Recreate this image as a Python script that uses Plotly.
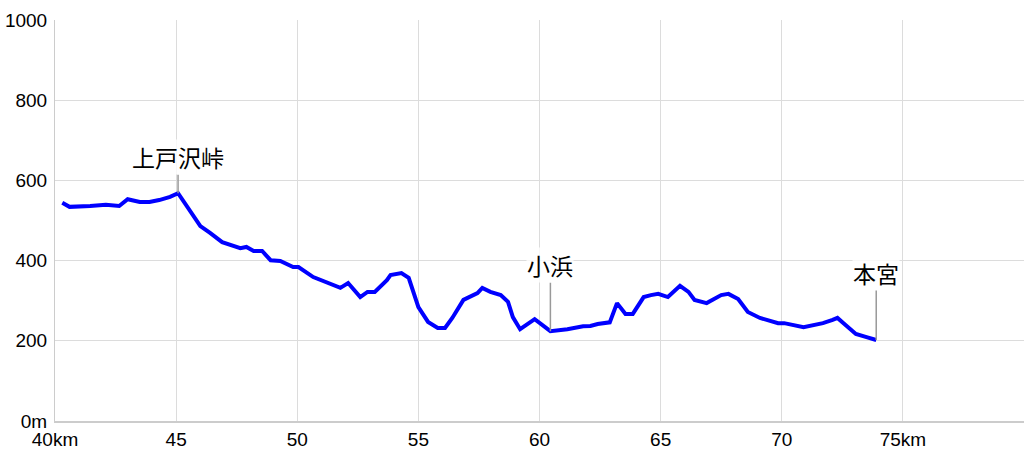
import plotly.graph_objects as go

# Elevation profile (distance km, elevation m)
dist_km = [40.3, 40.6, 41.45, 42.1, 42.65, 43.0, 43.5, 43.9, 44.3, 44.75, 45.08,
           45.45, 46.0, 46.4, 46.9, 47.65, 47.9, 48.2, 48.55, 48.9, 49.3, 49.83, 50.05,
           50.66, 51.24, 51.78, 52.1, 52.6, 52.9, 53.2, 53.7, 53.85, 54.3, 54.6, 55.0,
           55.4, 55.8, 56.1, 56.4, 56.86, 57.44, 57.64, 57.97, 58.4, 58.7, 58.9, 59.2,
           59.55, 59.8, 60.45, 60.8, 61.15, 61.8, 62.1, 62.4, 62.9, 63.2, 63.55, 63.85, 64.3, 64.6,
           64.9, 65.3, 65.8, 66.15, 66.4, 66.9, 67.5, 67.8, 68.2, 68.6, 69.1, 69.85,
           70.1, 70.9, 71.7, 72.1, 72.3, 72.55, 73.06, 73.5, 73.9]
elev_m = [544, 534, 536, 539, 536, 553, 546, 546, 551, 559, 568,
          534, 486, 469, 446, 431, 434, 424, 424, 401, 399, 384, 384,
          359, 344, 332, 344, 309, 322, 322, 351, 364, 369, 357, 284,
          247, 232, 232, 257, 302, 319, 332, 322, 314, 297, 259, 229,
          244, 254, 224, 226, 229, 236, 237, 242, 246, 294, 267, 267, 309, 314,
          317, 309, 337, 322, 302, 294, 314, 317, 304, 272, 257, 244,
          244, 234, 244, 252, 257, 244, 217, 209, 202]

# Landmarks
place_names = ["上戸沢峠", "小浜", "本宮"]
place_km = [45.08, 60.45, 73.9]
place_elev = [568, 224, 202]
place_offset = [-36, -66, -67]

x_tickvals = [40, 45, 50, 55, 60, 65, 70, 75]
x_ticktext = ["40km", "45", "50", "55", "60", "65", "70", "75km"]
y_tickvals = [0, 200, 400, 600, 800, 1000]
y_ticktext = ["0m", "200", "400", "600", "800", "1000"]

fig = go.Figure()
fig.add_trace(go.Scatter(x=dist_km, y=elev_m, mode="lines",
                         line=dict(color="#0000ff", width=4),
                         hoverinfo="x+y", showlegend=False))

for name, km, el, off in zip(place_names, place_km, place_elev, place_offset):
    fig.add_annotation(x=km, y=el, text=name, showarrow=True, arrowhead=0,
                       arrowwidth=1.5, arrowcolor="#999999", ax=0, ay=off,
                       font=dict(family="Noto Sans CJK JP", size=23, color="#000000"),
                       bgcolor="rgba(255,255,255,0.8)", borderpad=0)

fig.update_layout(
    width=1024, height=455,
    margin=dict(l=55, r=0, t=20, b=34, autoexpand=False),
    plot_bgcolor="#ffffff", paper_bgcolor="#ffffff",
    font=dict(family="Liberation Sans", size=19, color="#000000"),
    xaxis=dict(range=[40, 80], tickvals=x_tickvals, ticktext=x_ticktext,
               showgrid=True, gridcolor="#dcdcdc", gridwidth=1,
               showline=True, linecolor="#cccccc", linewidth=2,
               ticks="", zeroline=False, fixedrange=True, automargin=False),
    yaxis=dict(range=[0, 1000], tickvals=y_tickvals, ticktext=y_ticktext,
               showgrid=True, gridcolor="#dcdcdc", gridwidth=1,
               showline=True, linecolor="#cccccc", linewidth=1,
               ticks="outside", ticklen=3, tickcolor="#ffffff",
               zeroline=False, fixedrange=True, automargin=False),
)

fig.write_html("out.html", config={"displayModeBar": False},
               post_script="document.body.style.margin='0';document.body.style.overflow='hidden';")
